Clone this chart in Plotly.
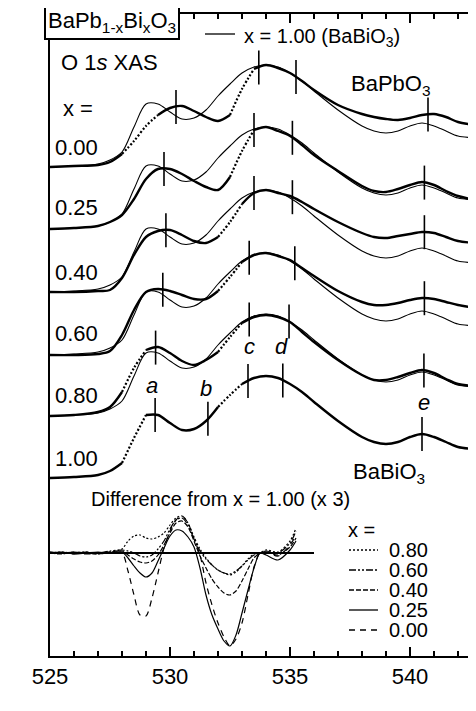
import numpy as np
import plotly.graph_objects as go

# ---------------- data ----------------
energy = [525, 526, 527, 527.5, 528, 528.5, 529, 529.5, 530, 530.5,
          531, 531.5, 532, 532.5, 533, 533.5, 534, 534.5, 535, 535.5,
          536, 537, 538, 538.5, 539, 539.5, 540, 540.5, 541, 541.5,
          542, 542.75]

compositions = ["0.00", "0.25", "0.40", "0.60", "0.80", "1.00"]

xas_000 = [0, 1, 2, 5, 13, 26, 41, 52, 59, 61, 56, 50, 46, 52, 78, 98, 102, 99, 94, 86,
           77, 62, 53, 50, 48, 47, 49, 52, 53, 50, 45, 42]
xas_025 = [0, 1, 3, 7, 14, 30, 50, 60, 60, 55, 48, 42, 39, 52, 78, 99, 102, 98, 93, 84,
           74, 58, 43, 38, 37, 40, 44, 47, 44, 38, 33, 29]
xas_040 = [0, 0, 1, 2, 14, 37, 55, 61, 62, 57, 51, 49, 55, 70, 88, 99, 102, 99, 96, 90,
           83, 70, 59, 55, 54, 56, 58, 60, 59, 55, 51, 49]
xas_060 = [0, 0, 1, 4, 20, 45, 63, 66, 64, 60, 56, 56, 64, 78, 93, 100, 102, 99, 95, 87,
           79, 64, 53, 50, 50, 52, 55, 57, 56, 53, 50, 47]
xas_080 = [0, 1, 4, 9, 24, 48, 66, 69, 63, 55, 51, 56, 64, 79, 93, 99, 101, 99, 94, 84,
           74, 56, 41, 36, 36, 39, 43, 46, 43, 37, 32, 30]
xas_100 = [0, 1, 3, 7, 15, 40, 63, 63, 55, 48, 49, 57, 71, 83, 94, 100, 102, 100, 94, 86,
           76, 57, 41, 36, 34, 36, 41, 44, 41, 36, 31, 29]

spectra = {"0.00": xas_000, "0.25": xas_025, "0.40": xas_040,
           "0.60": xas_060, "0.80": xas_080, "1.00": xas_100}

# vertical offsets of the stacked spectra
offsets = {"0.00": 489, "0.25": 427, "0.40": 364, "0.60": 301, "0.80": 240, "1.00": 178}

# feature marks (photon energy, eV)
feature_marks = {
    "0.00": [530.25, 533.7, 535.25, 540.75],
    "0.25": [529.75, 533.5, 535.1, 540.6],
    "0.40": [529.83, 533.5, 535.1, 540.6],
    "0.60": [529.7, 533.3, 535.2, 540.6],
    "0.80": [529.4, 533.3, 534.96, 540.58],
    "1.00": [529.38, 531.58, 533.25, 534.7, 540.5],
}

# difference spectra (x - 1.00) x 3
diff_energy = [525, 525.5, 526, 526.5, 527, 527.5, 528, 528.25, 528.5, 528.75,
               529, 529.25, 529.5, 529.75, 530, 530.25, 530.5, 530.75, 531, 531.25,
               531.5, 531.75, 532, 532.25, 532.5, 532.75, 533, 533.25, 533.5, 533.75,
               534, 534.5, 535, 535.25]
diff_000 = [1, 0, -1, 1, 0, 1, 0, -18, -42, -62, -63, -45, -20, 5, 22, 33, 37, 30, 14, -2,
            -30, -52, -70, -84, -93, -86, -70, -42, -14, 0, 1, -3, 8, 18]
diff_025 = [0, 1, -1, 0, 1, 0, 1, -5, -13, -20, -24, -20, -8, 5, 17, 23, 22, 16, 6, -15,
            -42, -62, -76, -88, -93, -82, -60, -37, -15, 0, -2, -7, 3, 12]
diff_040 = [0, -1, 1, 0, -1, 1, 2, -2, -6, -9, -10, -8, -2, 8, 20, 30, 32, 26, 12, -3,
            -15, -26, -34, -40, -42, -38, -28, -16, -5, 0, 1, -2, 6, 15]
diff_060 = [1, 0, 1, -1, 0, 2, 3, 2, 0, -3, -4, -2, 4, 12, 24, 33, 35, 28, 14, 2,
            -6, -12, -17, -20, -21, -18, -13, -7, -2, 0, 2, 0, 10, 22]
diff_080 = [0, 1, 0, 1, -1, 1, 4, 12, 17, 18, 15, 14, 16, 20, 28, 35, 37, 30, 16, 4,
            -5, -12, -17, -20, -22, -19, -13, -6, -1, 0, 3, 1, 12, 25]
diffs = {"0.80": diff_080, "0.60": diff_060, "0.40": diff_040,
         "0.25": diff_025, "0.00": diff_000}
diff_offset = 103
zero_line_range = [525, 536]

# ---------------- styles ----------------
BLACK = "black"
FONT = "Liberation Sans, Arial, Helvetica, sans-serif"
dotted_ranges = {
    "0.00": [(528, 529.5), (532.5, 533.5)],
    "0.25": [(532.5, 533.5)],
    "0.40": [(532, 533)],
    "0.60": [(532, 533)],
    "0.80": [(528, 529), (532, 533)],
    "1.00": [(528, 529), (532, 533)],
}
diff_dash = {"0.80": "2px,2px", "0.60": "7px,2px,2px,2px,2px,2px", "0.40": "5px,2px",
             "0.25": "solid", "0.00": "6px,5px"}
MARK_HALF = 17


# page pixel -> data coordinates (page has an 8px body margin)
def ex(px):
    return 525 + (px - 50) / 24.0


def ey(py):
    return 656 - py


fig = go.Figure()

E = np.array(energy, float)
ref = np.array(xas_100, float)

# thin reference (x = 1.00) overlays
for comp in compositions[:-1]:
    fig.add_trace(go.Scatter(x=energy, y=(ref + offsets[comp]).tolist(), mode="lines",
                             line=dict(color=BLACK, width=1.1, shape="spline", smoothing=0.9),
                             hoverinfo="skip"))

# thick spectra
for comp in compositions:
    y = np.array(spectra[comp], float) + offsets[comp]
    inside = np.zeros(len(E), bool)
    for lo, hi in dotted_ranges[comp]:
        seg = (E >= lo) & (E <= hi)
        inside |= (E > lo) & (E < hi)
        fig.add_trace(go.Scatter(x=E[seg].tolist(), y=y[seg].tolist(), mode="lines",
                                 line=dict(color=BLACK, width=2.2, dash="2px,2px",
                                           shape="spline", smoothing=0.9),
                                 hoverinfo="skip"))
    ys = [None if m else v for v, m in zip(y.tolist(), inside)]
    fig.add_trace(go.Scatter(x=energy, y=ys, mode="lines", connectgaps=False,
                             line=dict(color=BLACK, width=2.4, shape="spline", smoothing=0.9),
                             hoverinfo="skip"))

# feature marks
mx, my = [], []
for comp in compositions:
    for e in feature_marks[comp]:
        c = offsets[comp] + float(np.interp(e, energy, spectra[comp]))
        mx += [e, e, None]
        my += [c - MARK_HALF, c + MARK_HALF, None]
fig.add_trace(go.Scatter(x=mx, y=my, mode="lines", line=dict(color=BLACK, width=1.6),
                         hoverinfo="skip"))

# difference spectra
for comp, vals in diffs.items():
    fig.add_trace(go.Scatter(x=diff_energy, y=(np.array(vals, float) + diff_offset).tolist(),
                             mode="lines",
                             line=dict(color=BLACK, width=1.2, dash=diff_dash[comp],
                                       shape="spline", smoothing=0.8),
                             hoverinfo="skip"))
fig.add_trace(go.Scatter(x=zero_line_range, y=[diff_offset, diff_offset], mode="lines",
                         line=dict(color=BLACK, width=2), hoverinfo="skip"))

# ---------------- annotations ----------------
ann = []


def text(t, px, py, size=22, anchor="left", **kw):
    ann.append(dict(text=t, x=ex(px), y=ey(py), xref="x", yref="y", showarrow=False,
                    xanchor=anchor, yanchor="middle",
                    font=dict(family=FONT, size=size, color=BLACK), **kw))


text("BaPb<sub>1-x</sub>Bi<sub>x</sub>O<sub>3</sub>", 112, 22, 22, "center",
     bordercolor=BLACK, borderwidth=2, borderpad=2, bgcolor="white")
text("O 1<i>s</i> XAS", 59, 62)
text("x =", 61, 108)
label_py = {"0.00": 147, "0.25": 207, "0.40": 272, "0.60": 333, "0.80": 395, "1.00": 458}
for comp in compositions:
    text(comp, 53, label_py[comp])
text("BaPbO<sub>3</sub>", 349, 85)
text("BaBiO<sub>3</sub>", 351, 473)
text("x = 1.00 (BaBiO<sub>3</sub>)", 242, 37, 20)
for letter, px, py in [("a", 152, 385), ("b", 206, 388), ("c", 249, 346),
                       ("d", 281, 346), ("e", 424, 402)]:
    text("<i>%s</i>" % letter, px, py, 22, "center")
text("Difference from x = 1.00 (x 3)", 89, 499, 20)
text("x =", 346, 530, 20)
legend_py = {"0.80": 550, "0.60": 570, "0.40": 590, "0.25": 610, "0.00": 630}
shapes = []
for comp, py in legend_py.items():
    text(comp, 387, py, 20)
    shapes.append(dict(type="line", xref="x", yref="y", x0=ex(349), x1=ex(378),
                       y0=ey(py), y1=ey(py),
                       line=dict(color=BLACK, width=1.3, dash=diff_dash[comp])))
shapes.append(dict(type="line", xref="x", yref="y", x0=ex(205), x1=ex(235),
                   y0=ey(34), y1=ey(34), line=dict(color=BLACK, width=1.3)))
text("Intensity (arb. units)", 27, 364, 22, "center", textangle=-90)
text("Photon Energy (eV)", 268, 699, 22, "center")

# the page body adds an 8px margin, so the figure is 8px smaller than the window
fig.update_layout(
    width=468, height=703,
    margin=dict(l=42, r=0, t=6, b=55),
    plot_bgcolor="white", paper_bgcolor="white",
    showlegend=False,
    font=dict(family=FONT, size=22, color=BLACK),
    annotations=ann, shapes=shapes,
)
fig.update_xaxes(range=[525, 542.75], showline=True, linewidth=2, linecolor=BLACK,
                 mirror="ticks", ticks="inside", ticklen=9, tickwidth=1.5, tickcolor=BLACK,
                 tick0=525, dtick=5,
                 minor=dict(dtick=1, ticklen=5, tickwidth=1.5, tickcolor=BLACK, ticks="inside"),
                 showgrid=False, zeroline=False,
                 tickfont=dict(family=FONT, size=22, color=BLACK))
fig.update_yaxes(range=[0, 642], showline=True, linewidth=2, linecolor=BLACK,
                 ticks="", showticklabels=False, showgrid=False, zeroline=False)

fig.write_html("out.html")
